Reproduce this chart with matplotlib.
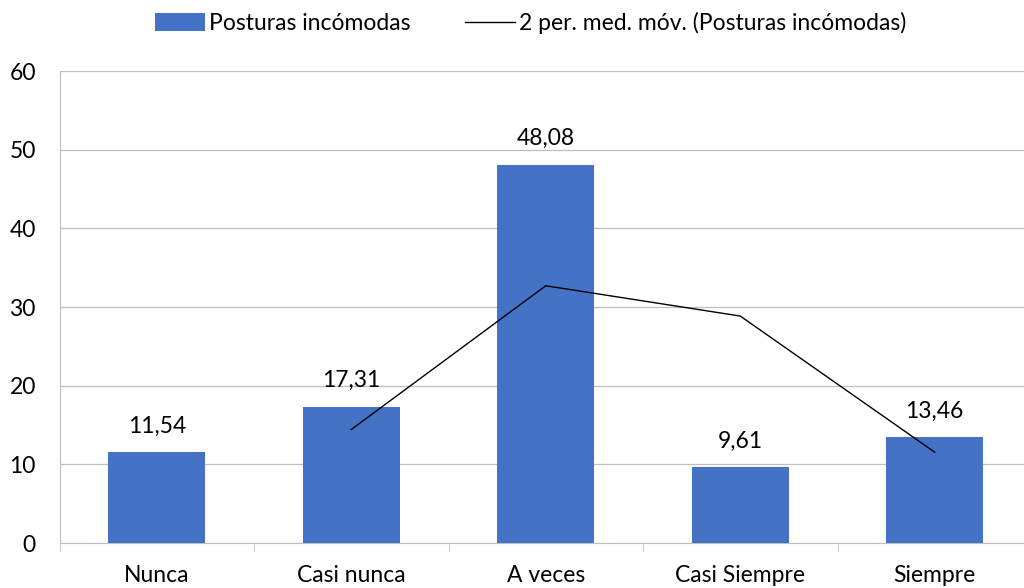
import matplotlib.pyplot as plt
import numpy as np

categories = ["Nunca", "Casi nunca", "A veces", "Casi Siempre", "Siempre"]
values = [11.54, 17.31, 48.08, 9.61, 13.46]
value_labels = ["11,54", "17,31", "48,08", "9,61", "13,46"]
# 2-period moving average, starts at the second category
ma_values = [14.43, 32.70, 28.85, 11.54]

plt.rcParams["font.family"] = ["Lato", "DejaVu Sans"]
FS = 16.5

fig = plt.figure(figsize=(10.24, 5.88), dpi=100)
ax = fig.add_axes([59.5 / 1024, 1 - 543 / 588, 972.5 / 1024, 472 / 588])

x = np.arange(len(categories))
bars = ax.bar(x, values, width=0.5, color="#4472C4", zorder=3,
              label="Posturas incómodas")
line, = ax.plot(x[1:], ma_values, color="black", linewidth=1, zorder=4,
                label="2 per. med. móv. (Posturas incómodas)")

for xi, v, lab in zip(x, values, value_labels):
    ax.text(xi, v + 2.0, lab, ha="center", va="bottom", fontsize=FS)

ax.set_xlim(-0.5, len(categories) - 0.5)
ax.set_ylim(0, 60)
ax.set_yticks(range(0, 61, 10))
ax.yaxis.grid(True, color="#BFBFBF", linewidth=0.9, zorder=0)
ax.tick_params(axis="y", length=0, labelsize=FS, pad=17)

ax.set_xticks(x)
ax.set_xticklabels(categories, fontsize=FS)
ax.tick_params(axis="x", which="major", length=0, pad=16)
ax.set_xticks(np.arange(-0.5, len(categories), 1.0), minor=True)
ax.tick_params(axis="x", which="minor", length=6, color="#BFBFBF")

for side in ["top", "right"]:
    ax.spines[side].set_visible(False)
ax.spines["left"].set_color("#BFBFBF")
ax.spines["bottom"].set_color("#BFBFBF")

fig.legend(handles=[bars, line], loc="upper center", bbox_to_anchor=(0.518, 1.015),
           ncol=2, frameon=False, fontsize=FS, handlelength=2.2, handleheight=0.8,
           columnspacing=2.4, handletextpad=0.15)

fig.savefig("out.png", dpi=100)
